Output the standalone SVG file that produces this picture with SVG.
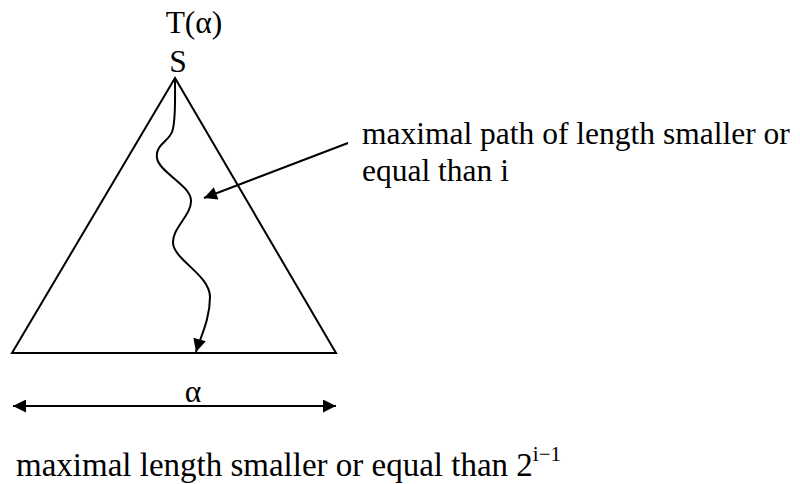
<svg xmlns="http://www.w3.org/2000/svg" width="800" height="484" viewBox="0 0 800 484">
<style>
text{font-family:"Liberation Serif","Times New Roman",serif;font-size:31.5px;fill:#000}
.ln{stroke:#000;stroke-width:2;fill:none}
</style>
<defs>
<marker id="ah" viewBox="0 0 10 10" refX="10" refY="5" markerWidth="7.5" markerHeight="6.5" orient="auto-start-reverse" markerUnits="strokeWidth"><path d="M0,0 L10,5 L0,10 z" fill="#000"/></marker>
</defs>
<rect width="800" height="484" fill="#fff"/>
<g id="tree">
<polygon class="ln" points="175,78 12,353 336,353"/>
<text x="194" y="33" text-anchor="middle">T(α)</text>
<text x="178" y="72" text-anchor="middle">S</text>
</g>
<g id="labels">
<text x="362" y="144">maximal path of length smaller or</text>
<text x="362" y="181">equal than i</text>
<text x="193" y="402" text-anchor="middle">α</text>
<text x="16" y="476" style="font-size:33px">maximal length smaller or equal than 2<tspan font-size="21" dy="-15">i−1</tspan></text>
</g>
<g id="connectors">
<path class="ln" marker-end="url(#ah)" d="M175,80 C175,100 176,122 172,132 C168,142 155,145 157,158 C159,172 190,185 191,200 C192,215 172,228 173,243 C174,260 210,275 210,297 C210,320 200,338 196,352"/>
<line class="ln" marker-end="url(#ah)" x1="348" y1="143" x2="204" y2="198"/>
<line class="ln" marker-start="url(#ah)" marker-end="url(#ah)" x1="13" y1="406" x2="336" y2="406"/>
</g>
</svg>
